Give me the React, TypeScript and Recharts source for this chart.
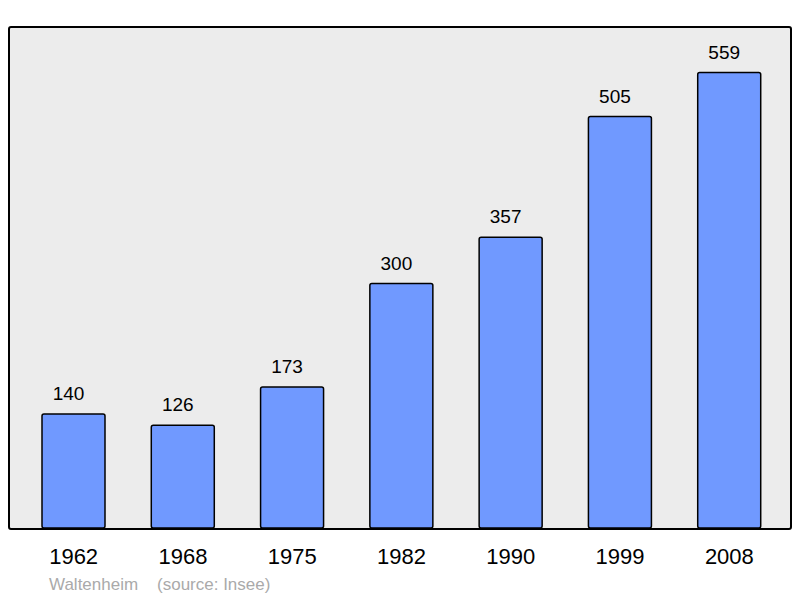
import { BarChart, Bar, XAxis, YAxis, LabelList } from "recharts";

const years = ["1962", "1968", "1975", "1982", "1990", "1999", "2008"];
const population = [140, 126, 173, 300, 357, 505, 559];

const data = years.map((year, i) => ({ year, population: population[i] }));

const font = '"Liberation Sans", Arial, sans-serif';

export default function App() {
  return (
    <div
      style={{
        position: "absolute",
        left: 0,
        top: 0,
        width: 800,
        height: 598,
        background: "#fff",
        fontFamily: font,
      }}
    >
      {/* plot frame */}
      <div
        style={{
          position: "absolute",
          left: 8,
          top: 26,
          width: 784,
          height: 504,
          boxSizing: "border-box",
          border: "2px solid #000",
          borderRadius: 3,
          background: "#ececec",
        }}
      />
      <div style={{ position: "absolute", left: 0, top: 0 }}>
        <BarChart
          width={800}
          height={598}
          data={data}
          margin={{ top: 27, right: 9, left: 9, bottom: 30 }}
        >
          <XAxis
            dataKey="year"
            height={40}
            axisLine={false}
            tickLine={false}
            tickMargin={14}
            padding={{ left: 10, right: 7 }}
            tick={{ fontSize: 22, fill: "#000", fontFamily: font }}
          />
          <YAxis hide domain={[0, 615]} />
          <Bar
            dataKey="population"
            barSize={63}
            fill="#7099ff"
            stroke="#000"
            strokeWidth={1.5}
            radius={2}
            isAnimationActive={false}
          >
            <LabelList
              dataKey="population"
              position="top"
              offset={14}
              dx={-5}
              style={{ fontSize: 19, fill: "#000", fontFamily: font }}
            />
          </Bar>
        </BarChart>
      </div>
      <div
        style={{
          position: "absolute",
          left: 49,
          top: 575,
          fontSize: 17,
          color: "#aaa",
          whiteSpace: "pre",
        }}
      >
        {"Waltenheim    (source: Insee)"}
      </div>
    </div>
  );
}
